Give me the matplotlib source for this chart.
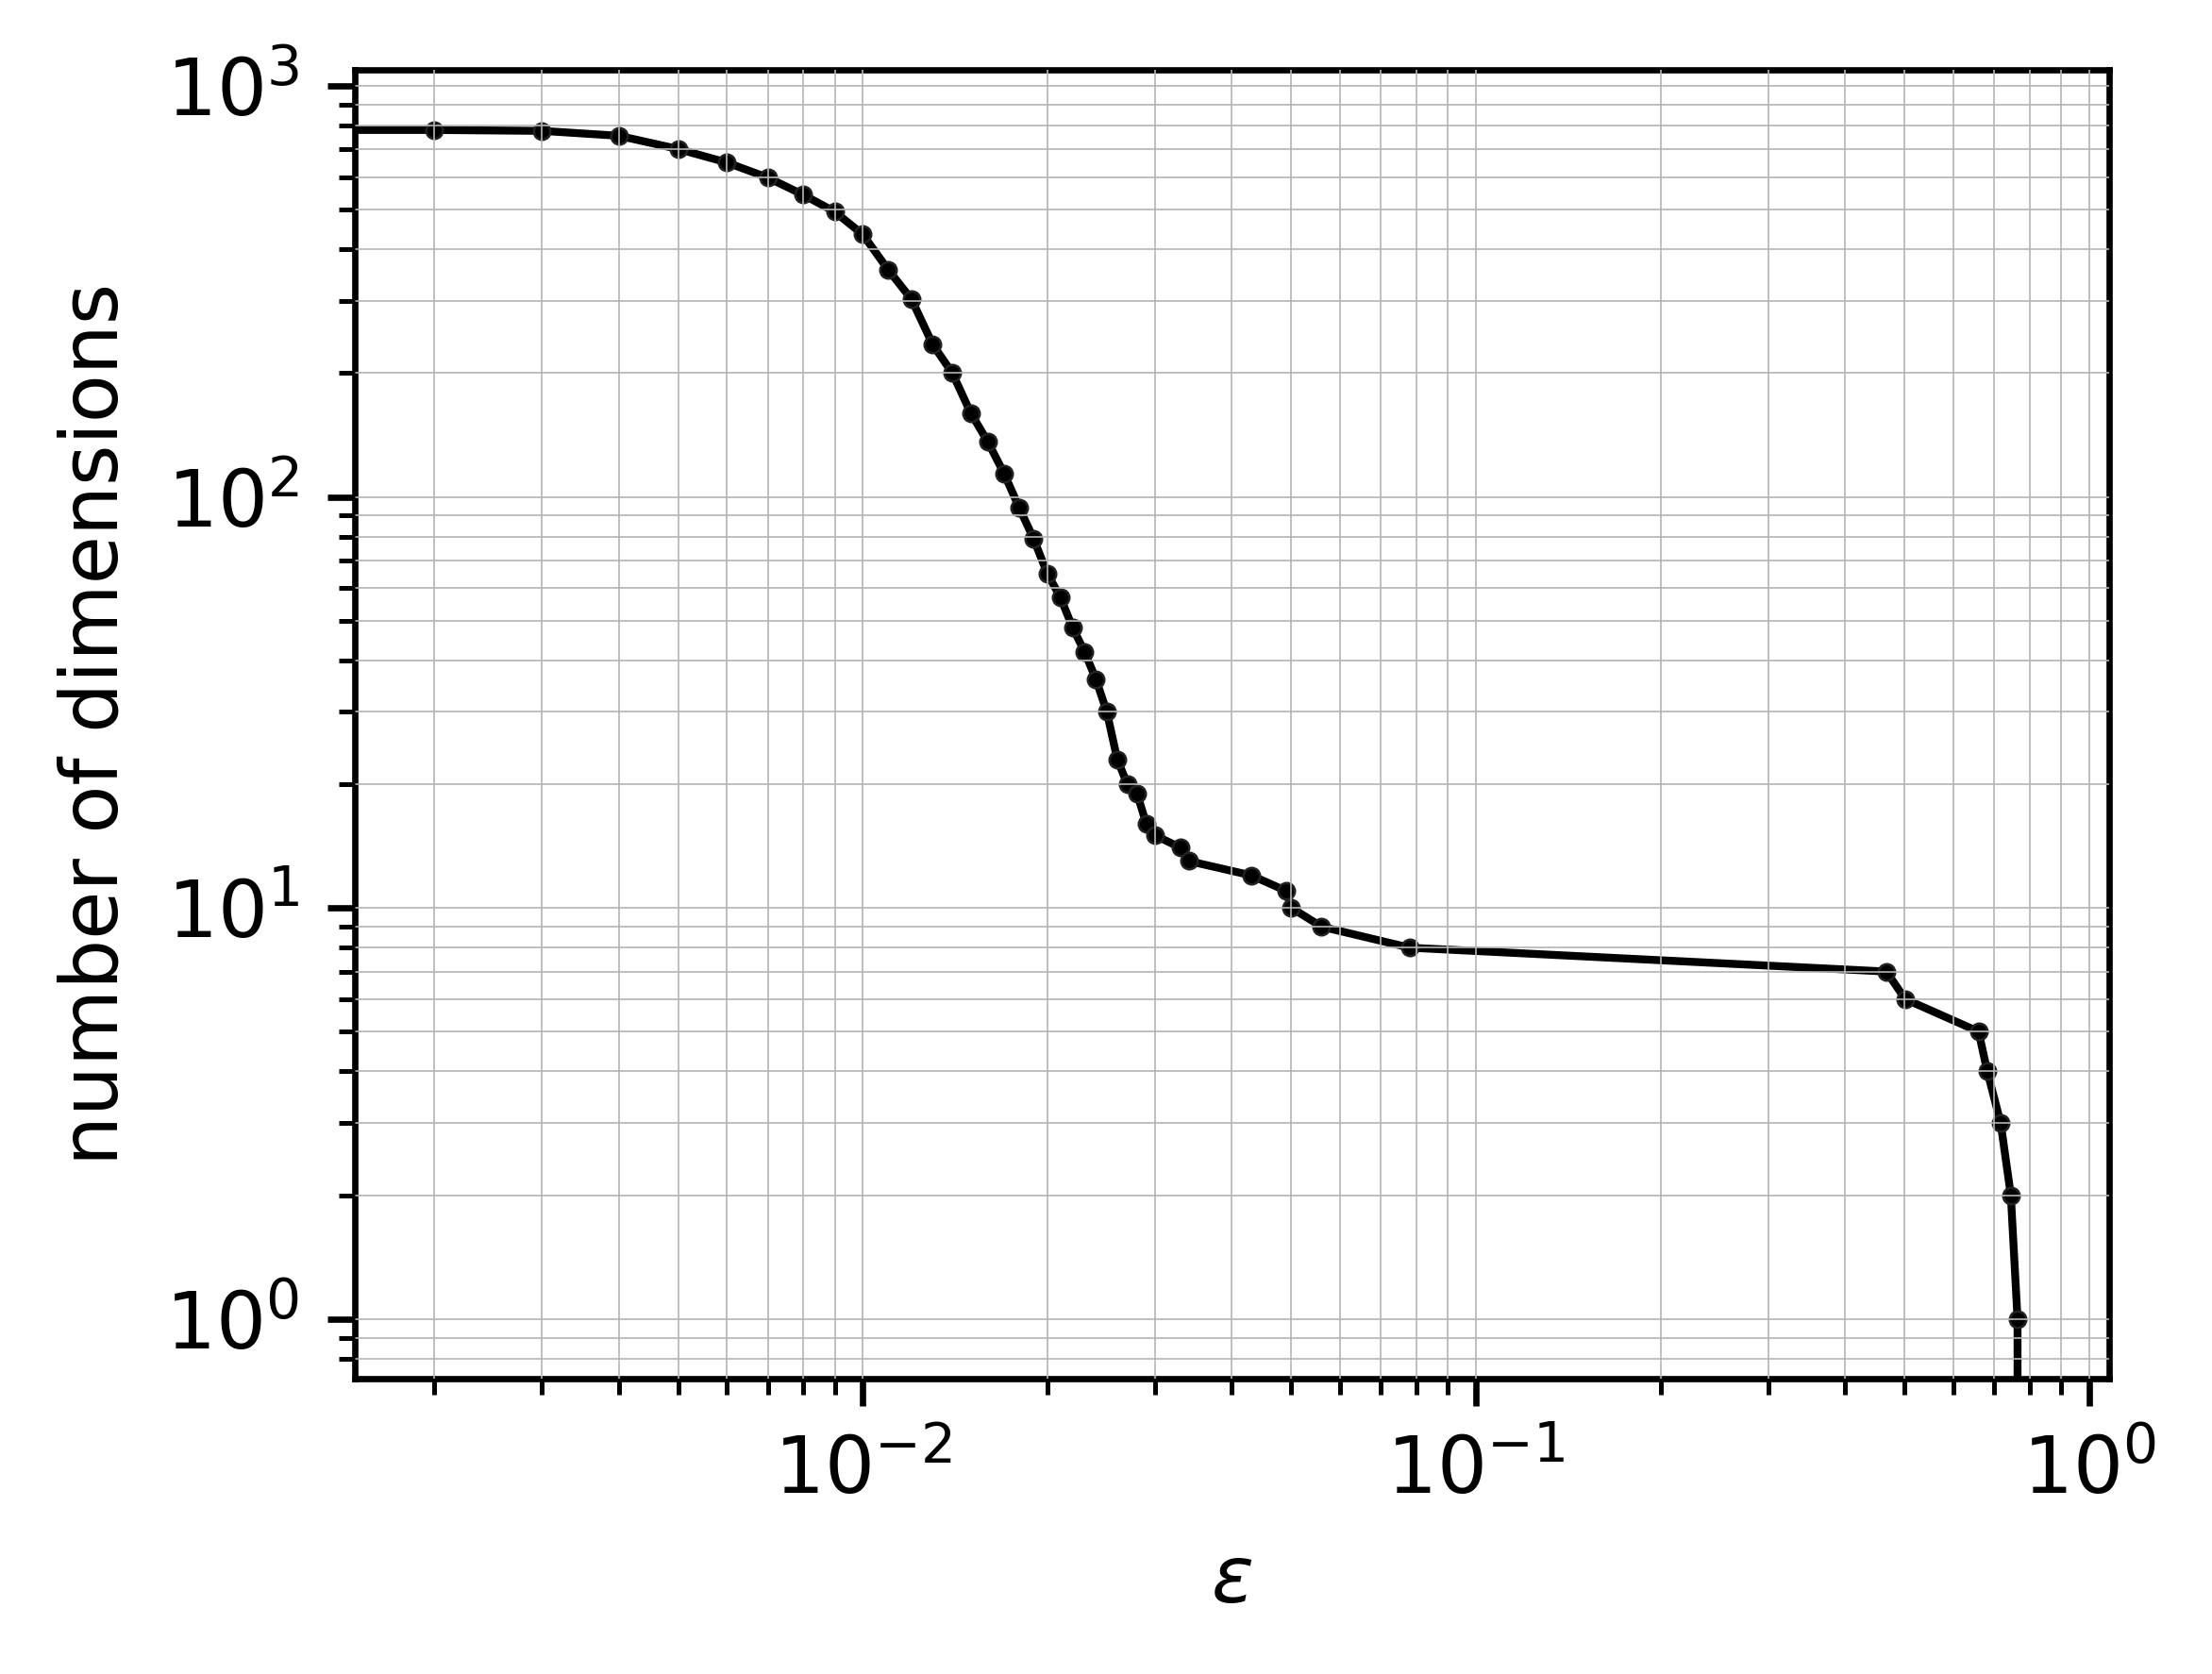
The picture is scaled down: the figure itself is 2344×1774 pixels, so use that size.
import matplotlib
matplotlib.use("Agg")
import matplotlib.pyplot as plt

# epsilon values and resulting number of dimensions
eps = [0.0, 0.002, 0.003, 0.004, 0.005, 0.006, 0.007, 0.008, 0.009, 0.010,
       0.011, 0.012, 0.013, 0.014, 0.015, 0.016, 0.017, 0.018, 0.019, 0.020,
       0.021, 0.022, 0.023, 0.024, 0.025, 0.026, 0.027, 0.028, 0.029, 0.030,
       0.033, 0.034, 0.043, 0.049, 0.050, 0.056, 0.078, 0.467, 0.501, 0.660,
       0.682, 0.717, 0.745, 0.764, 0.800]
dims = [784, 781, 777, 756, 702, 651, 598, 543, 494, 435,
        357, 303, 235, 200, 160, 136, 114, 94, 79, 65,
        57, 48, 42, 36, 30, 23, 20, 19, 16, 15,
        14, 13, 12, 11, 10, 9, 8, 7, 6, 5,
        4, 3, 2, 1, 0]

fig = plt.figure(figsize=(2344 / 600, 1774 / 600), dpi=600)
ax = fig.add_axes([0.1602, 0.1766, 0.9537 - 0.1602, 0.9583 - 0.1766])
ax.plot(eps, dims, color="black", lw=1.0, marker="o", ms=2.1,
        markeredgewidth=0.3, markeredgecolor="#222222")
ax.set_xscale("log")
ax.set_yscale("log")
ax.set_axisbelow(False)
ax.grid(True, which="both", color="#b4b4b4", lw=0.2)
ax.set_xlabel(r"$\varepsilon$")
ax.set_ylabel("number of dimensions")
fig.savefig("out.png", dpi=600)
